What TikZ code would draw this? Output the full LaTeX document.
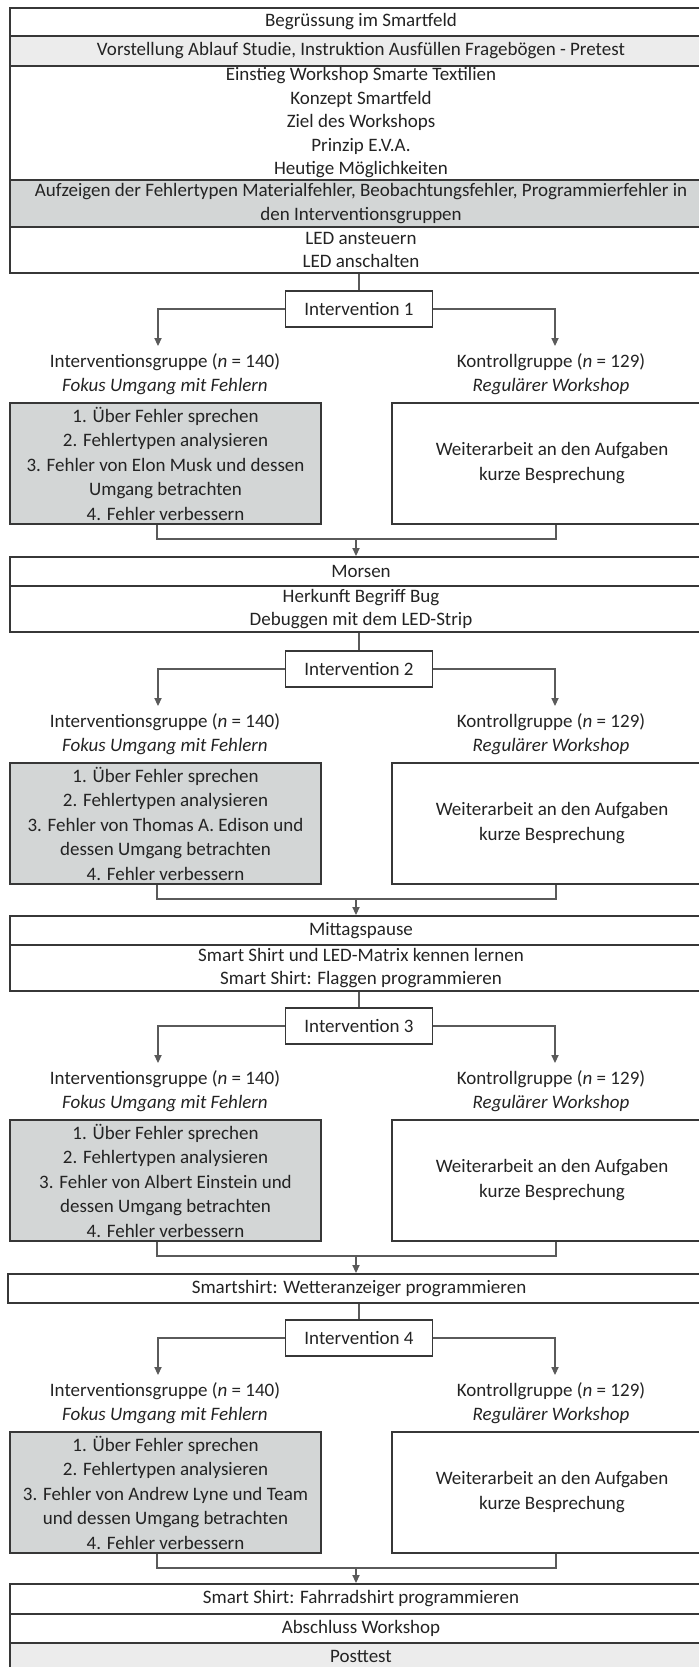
\documentclass[tikz,border=0pt]{standalone}
\usepackage{fontspec}
\setmainfont{Carlito}
\usetikzlibrary{arrows.meta,calc}

\definecolor{edge}{RGB}{55,55,55}
\definecolor{wirecol}{RGB}{90,90,90}
\definecolor{inktext}{RGB}{35,35,35}
\definecolor{shadeA}{RGB}{236,236,236}
\definecolor{shadeB}{RGB}{211,214,214}

% one intervention block: #1 id, #2 top of the intervention box,
% #3 number, #4 text of the focus box, #5 row above
\newcommand\branchblock[5]{%
  \node[ivbox] (iv#1) at (359,#2+18) {Intervention #3};
  \draw[wire] (#5.south -| iv#1.north) -- (iv#1.north);
  \coordinate (tipL#1) at (158,#2+55);
  \coordinate (tipR#1) at (555,#2+55);
  \draw[wire,tip] (iv#1.west) -| (tipL#1);
  \draw[wire,tip] (iv#1.east) -| (tipR#1);
  \node[grouplabel] (gl#1) at (165,#2+83)
    {Interventionsgruppe (\textit{n} = 140)\\\textit{Fokus Umgang mit Fehlern}};
  \node[grouplabel] (kl#1) at (551,#2+83)
    {Kontrollgruppe (\textit{n} = 129)\\\textit{Regulärer Workshop}};
  \node[focusbox] (fb#1) at (9,#2+111) {#4};
  \node[plainbox] (kb#1) at (391,#2+111)
    {Weiterarbeit an den Aufgaben\\kurze Besprechung};
  \coordinate (mL#1) at (157,#2+248);
  \coordinate (mR#1) at (556,#2+248);
  \coordinate (mA#1) at (356,#2+248);
  \draw[wire] (fb#1.south -| mL#1) -- (mL#1) -- (mR#1) -- (kb#1.south -| mR#1);
}

\begin{document}
\begin{tikzpicture}[x=0.5pt,y=-0.5pt,
  every node/.style={font=\fontsize{9.5}{11.75}\selectfont, text=inktext,
    inner sep=0pt, align=center},
  row/.style={draw=edge, line width=1pt, anchor=north west, minimum width=351pt},
  ivbox/.style={draw=edge, line width=0.9pt, minimum width=73.5pt, minimum height=18pt},
  grouplabel/.style={},
  focusbox/.style={draw=edge, line width=1pt, fill=shadeB, anchor=north west,
    minimum width=155.5pt, minimum height=60.5pt,
    font=\fontsize{9.5}{12.25}\selectfont},
  plainbox/.style={draw=edge, line width=1pt, anchor=north west,
    minimum width=160pt, minimum height=60.5pt,
    font=\fontsize{9.5}{12.5}\selectfont},
  wire/.style={draw=wirecol, line width=0.55pt},
  tip/.style={-{Triangle[length=4pt,width=3.6pt]}}]

\useasboundingbox (0,0) rectangle (699,1667);
\clip (0,0) rectangle (699,1667);

% opening rows
\node[row, minimum height=14pt] (b1) at (9,7) {Begrüssung im Smartfeld};
\node[row, minimum height=15pt, fill=shadeA] (b2) at (9,35)
  {Vorstellung Ablauf Studie, Instruktion Ausfüllen Fragebögen - Pretest};
\node[row, minimum height=57pt] (b3) at (9,65)
  {Einstieg Workshop Smarte Textilien\\Konzept Smartfeld\\Ziel des Workshops\\Prinzip E.V.A.\\Heutige Möglichkeiten};
\node[row, minimum height=23.5pt, fill=shadeB] (b4) at (9,179)
  {Aufzeigen der Fehlertypen Materialfehler, Beobachtungsfehler, Programmierfehler in\\den Interventionsgruppen};
\node[row, minimum height=23pt] (b5) at (9,226) {LED ansteuern\\LED anschalten};

% intervention 1
\branchblock{1}{291}{1}{1. Über Fehler sprechen\\2. Fehlertypen analysieren\\3. Fehler von Elon Musk und dessen\\Umgang betrachten\\4. Fehler verbessern}{b5}

\node[row, minimum height=14.5pt] (b6) at (9,556) {Morsen};
\draw[wire,tip] (mA1) -- (mA1 |- b6.north);
\node[row, minimum height=23pt] (b7) at (9,585)
  {Herkunft Begriff Bug\\Debuggen mit dem LED-Strip};

% intervention 2
\branchblock{2}{651}{2}{1. Über Fehler sprechen\\2. Fehlertypen analysieren\\3. Fehler von Thomas A. Edison und\\dessen Umgang betrachten\\4. Fehler verbessern}{b7}

\node[row, minimum height=14.5pt] (b8) at (9,915) {Mittagspause};
\draw[wire,tip] (mA2) -- (mA2 |- b8.north);
\node[row, minimum height=23pt] (b9) at (9,944)
  {Smart Shirt und LED-Matrix kennen lernen\\Smart Shirt: Flaggen programmieren};

% intervention 3
\branchblock{3}{1008}{3}{1. Über Fehler sprechen\\2. Fehlertypen analysieren\\3. Fehler von Albert Einstein und\\dessen Umgang betrachten\\4. Fehler verbessern}{b9}

\node[row, minimum height=14.5pt] (b10) at (7,1273) {Smartshirt: Wetteranzeiger programmieren};
\draw[wire,tip] (mA3) -- (mA3 |- b10.north);

% intervention 4
\branchblock{4}{1320}{4}{1. Über Fehler sprechen\\2. Fehlertypen analysieren\\3. Fehler von Andrew Lyne und Team\\und dessen Umgang betrachten\\4. Fehler verbessern}{b10}

% closing rows
\node[row, minimum height=15pt] (b11) at (9,1583) {Smart Shirt: Fahrradshirt programmieren};
\draw[wire,tip] (mA4) -- (mA4 |- b11.north);
\node[row, minimum height=14.5pt] (b12) at (9,1613) {Abschluss Workshop};
\node[row, minimum height=13pt, fill=shadeA] (b13) at (9,1642) {Posttest};

\end{tikzpicture}
\end{document}
